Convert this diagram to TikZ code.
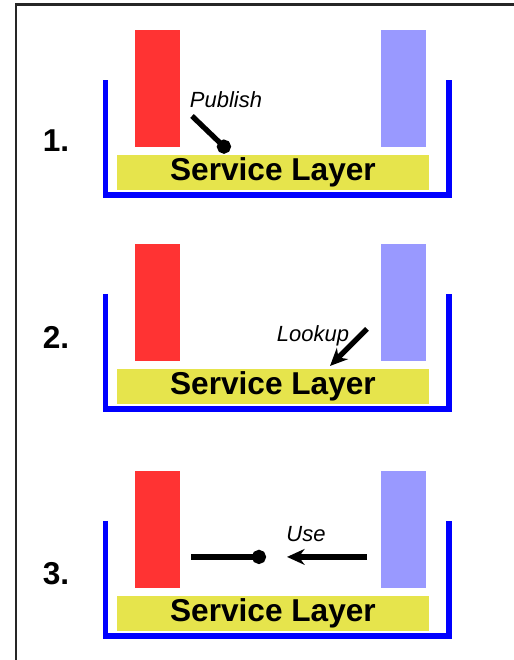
\documentclass[tikz,border=0pt]{standalone}
\usepackage{fontspec}
\setmainfont{Liberation Sans}
\usetikzlibrary{arrows.meta}

\definecolor{clientred}{HTML}{FF3333}
\definecolor{providerblue}{HTML}{9999FF}
\definecolor{layeryellow}{HTML}{E6E44C}
\definecolor{trayblue}{HTML}{0000FF}

\tikzset{
  frameline/.style={line width=1.2pt,draw=black!85},
  client/.style={fill=clientred,inner sep=0,minimum width=0.9cm,minimum height=2.34cm},
  provider/.style={fill=providerblue,inner sep=0,minimum width=0.9cm,minimum height=2.34cm},
  layer/.style={fill=layeryellow,inner sep=0,minimum width=6.24cm,minimum height=0.7cm,
    font=\fontsize{18}{20}\selectfont\bfseries},
  tray/.style={draw=trayblue,line width=3pt},
  stepnum/.style={font=\fontsize{18}{20}\selectfont\bfseries},
  action/.style={font=\fontsize{12.5}{14}\selectfont\itshape},
  plug/.style={line width=3pt,-{Circle[length=8pt]}},
  pointer/.style={line width=3pt,-{Stealth[length=10pt,width=9pt]}}
}

\begin{document}
\begin{tikzpicture}[x=0.02cm,y=-0.02cm]

    \useasboundingbox (0,0) rectangle (514,660);

    \draw[frameline] (16,660) -- (16,4.5) -- (514,4.5);



    \begin{scope}

      \node[client] (client1) at (157.5,88.5) {};
      \node[provider] (provider1) at (403.5,88.5) {};
      \node[layer] (layer1) at (273,172.5) {\raisebox{-1pt}{Service Layer}};
      \draw[tray] (105.5,80) -- (105.5,195) -- (449,195) -- (449,80);

      \node[stepnum] (num1) at (56,141) {1.};

      \node[action] (publish) at (226,100) {Publish};
      \coordinate (pubfrom) at (192,116);
      \coordinate (pubto) at (229,151.5);
      \draw[plug] (pubfrom) -- (pubto);

    \end{scope}



    \begin{scope}[yshift=-4.28cm]

      \node[client] (client2) at (157.5,88.5) {};
      \node[provider] (provider2) at (403.5,88.5) {};
      \node[layer] (layer2) at (273,172.5) {\raisebox{-1pt}{Service Layer}};
      \draw[tray] (105.5,80) -- (105.5,195) -- (449,195) -- (449,80);

      \node[stepnum] (num2) at (56,123) {2.};

      \node[action] (lookup) at (313,122) {Lookup};
      \coordinate (lookfrom) at (367,115);
      \coordinate (lookto) at (330,152);
      \draw[pointer] (lookfrom) -- (lookto);

    \end{scope}



    \begin{scope}[yshift=-8.82cm]

      \node[client] (client3) at (157.5,88.5) {};
      \node[provider] (provider3) at (403.5,88.5) {};
      \node[layer] (layer3) at (273,172.5) {\raisebox{-1pt}{Service Layer}};
      \draw[tray] (105.5,80) -- (105.5,195) -- (449,195) -- (449,80);

      \node[stepnum] (num3) at (56,133) {3.};

      \node[action] (use) at (306,93.5) {Use};
      \coordinate (usefrom) at (191,116);
      \coordinate (useto) at (266,116);
      \draw[plug] (usefrom) -- (useto);
      \coordinate (callfrom) at (367,116);
      \coordinate (callto) at (287,116);
      \draw[pointer] (callfrom) -- (callto);

    \end{scope}

  \end{tikzpicture}
\end{document}
